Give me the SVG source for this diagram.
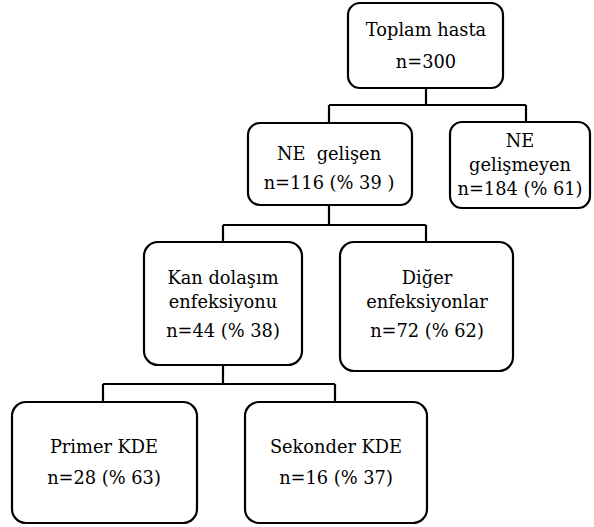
<svg xmlns="http://www.w3.org/2000/svg" width="594" height="527" viewBox="0 0 594 527">
<style>
.box{fill:#fff;stroke:#000;stroke-width:2.2}
.t{font-family:'DejaVu Serif','Liberation Serif',serif;font-size:17.8px;fill:#000;text-anchor:middle}
.c{fill:none;stroke:#000;stroke-width:2.2}
</style>
<rect width="594" height="527" fill="#fff"/>
<g id="connectors">
<path class="c" d="M426 88V105M329 105H526M329 105V123M526 105V122"/>
<path class="c" d="M329 205V225M223 225H426M223 225V242M426 225V242"/>
<path class="c" d="M223 365V384M103 384H335M103 384V402M335 384V402"/>
</g>
<g id="n-total">
<rect class="box" x="348" y="3" width="155" height="85" rx="12"/>
<text class="t" x="426" y="36">Toplam hasta</text>
<text class="t" x="426" y="68">n=300</text>
</g>
<g id="n-ne">
<rect class="box" x="248" y="123" width="164" height="82" rx="12"/>
<text class="t" x="329" y="160" xml:space="preserve">NE  gelişen</text>
<text class="t" x="329" y="189">n=116 (% 39 )</text>
</g>
<g id="n-notne">
<rect class="box" x="450" y="122" width="140" height="86" rx="12"/>
<text class="t" x="520" y="147">NE</text>
<text class="t" x="520" y="171">gelişmeyen</text>
<text class="t" x="520" y="195">n=184 (% 61)</text>
</g>
<g id="n-kde">
<rect class="box" x="144" y="242" width="158" height="123" rx="14"/>
<text class="t" x="223" y="284">Kan dolaşım</text>
<text class="t" x="223" y="308">enfeksiyonu</text>
<text class="t" x="223" y="337">n=44 (% 38)</text>
</g>
<g id="n-other">
<rect class="box" x="340" y="242" width="173" height="129" rx="14"/>
<text class="t" x="427" y="284">Diğer</text>
<text class="t" x="427" y="308">enfeksiyonlar</text>
<text class="t" x="427" y="337">n=72 (% 62)</text>
</g>
<g id="n-primer">
<rect class="box" x="12" y="402" width="185" height="121" rx="14"/>
<text class="t" x="104" y="453">Primer KDE</text>
<text class="t" x="104" y="484">n=28 (% 63)</text>
</g>
<g id="n-sekonder">
<rect class="box" x="245" y="402" width="182" height="121" rx="14"/>
<text class="t" x="336" y="453">Sekonder KDE</text>
<text class="t" x="336" y="484">n=16 (% 37)</text>
</g>
</svg>
